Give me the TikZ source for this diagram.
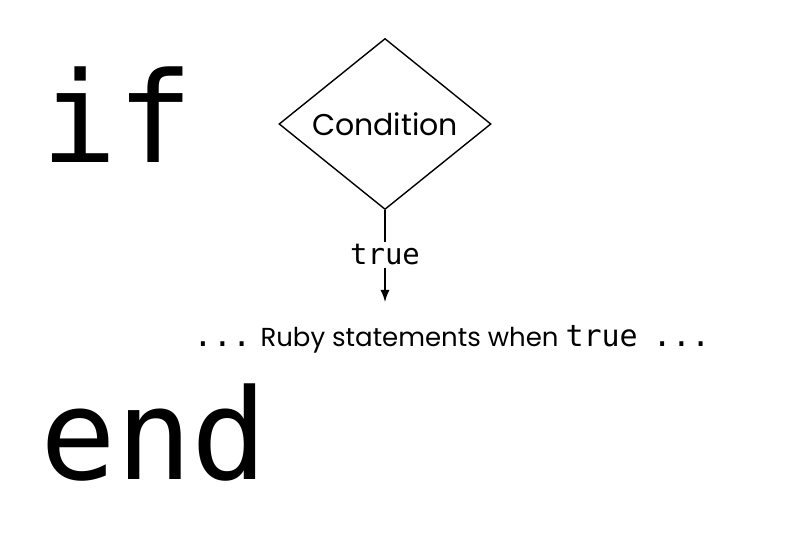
\documentclass[tikz,border=0pt]{standalone}
\usepackage{fontspec}
\setsansfont{Poppins}
\setmonofont{DejaVu Sans Mono}
\usetikzlibrary{shapes.geometric,arrows.meta}
\begin{document}
\begin{tikzpicture}[x=1pt,y=1pt]
	\useasboundingbox (0,0) rectangle (800,546);
	\node[anchor=base west, inner sep=0, font=\fontsize{126}{126}\ttfamily] (if) at (41,383) {if};
	\node[anchor=base west, inner sep=0, font=\fontsize{126}{126}\ttfamily] (end) at (40,66) {end};
	
	\node[draw,diamond,line width=1.4pt,minimum width=212,minimum height=171,inner sep=0, font=\fontsize{30}{30}\sffamily] (cond) at (385,422) {Condition};
	\node[inner sep=2pt, font=\fontsize{29}{29}\ttfamily] (true) at (385,291) {true};
	\node[inner sep=2pt, font=\fontsize{26}{26}\sffamily] (stmt) at (452,207) {{\ttfamily\fontsize{32}{32}\selectfont...} Ruby statements when {\ttfamily\fontsize{30}{30}\selectfont true}\hspace{8pt} {\ttfamily\fontsize{32}{32}\selectfont...}};
	\coordinate (tip) at (385,244);
	\draw[line width=1.4pt] (cond.south) -- (true.north);
	\draw[line width=1.4pt,-{Latex[length=12pt,width=9pt]}] (true.south) -- (tip);
\end{tikzpicture}
\end{document}
